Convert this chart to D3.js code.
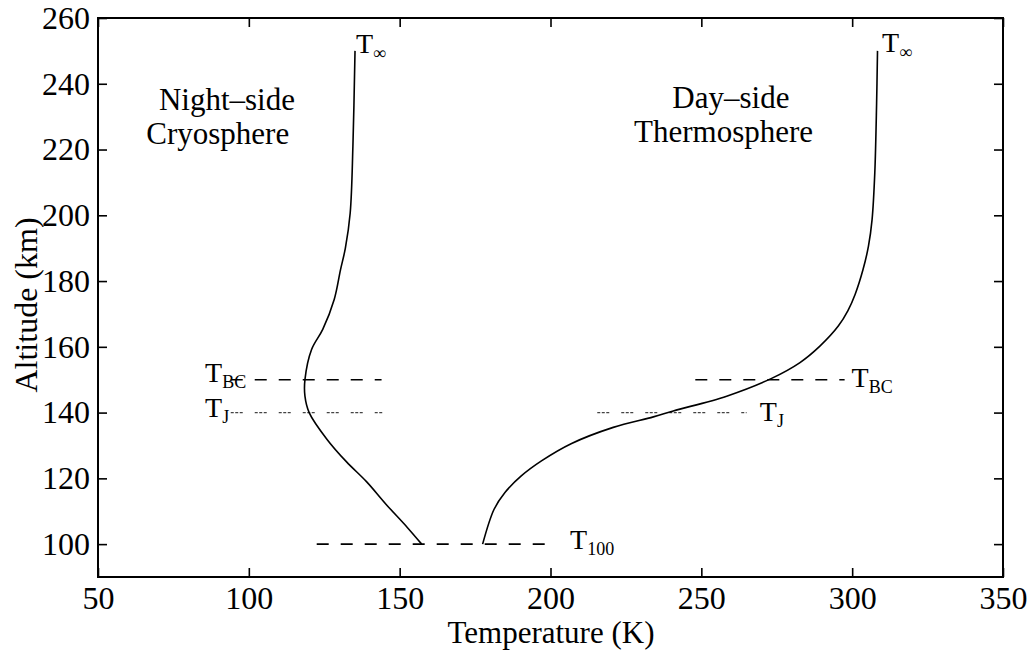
<!DOCTYPE html>
<html>
<head>
<meta charset="utf-8">
<script src="https://cdn.jsdelivr.net/npm/d3@7"></script>
<style>
  html, body { margin: 0; padding: 0; background: #fff; }
  svg { display: block; font-family: "Liberation Serif", "Times New Roman", serif; }
</style>
</head>
<body>
<svg id="chart" width="1031" height="650"></svg>
<script>
// Night-side (cryosphere) temperature profile: altitude (km) vs temperature (K)
const nightAlt  = [100, 105, 112, 119, 125, 132, 140, 145, 150, 159.2, 165.3, 174.4, 183.5, 190, 200.7, 221, 250];
const nightTemp = [157.3, 152.6, 145.6, 139.0, 132.4, 125.8, 120.0, 118.6, 118.6, 120.8, 124.5, 128.3, 130.4, 132.0, 133.6, 134.5, 135.2];

// Day-side (thermosphere) temperature profile
const dayAlt  = [100, 110.6, 115.7, 120.8, 125.3, 130.6, 135.5, 138.7, 140.5, 145, 150.4, 155.2, 160.2, 166.3, 171, 176, 183.5, 190.6, 198.7, 212.9, 234, 250];
const dayTemp = [177.5, 181.3, 184.9, 190.4, 197.0, 207.0, 220.8, 234.1, 240.7, 258.4, 273.3, 282.7, 289.3, 295.4, 298.6, 301.0, 303.6, 305.4, 306.6, 307.5, 308.1, 308.4];

// Reference levels: altitude, temperature span, line style
const refAlt   = [150, 140, 100, 150, 140];
const refFrom  = [94, 94, 122.5, 248, 215.5];
const refTo    = [144, 144.5, 199.5, 297.5, 265];
const refStyle = ["dash", "dot", "dash", "dash", "dot"];

// Level labels: main letter, subscript, anchor (temperature, altitude)
const lblMain = ["T", "T", "T", "T", "T", "T", "T"];
const lblSub  = ["\u221E", "\u221E", "BC", "J", "BC", "J", "100"];
const lblT    = [135.5, 309.9, 85.5, 85.5, 299.8, 269.4, 206.5];
const lblA    = [249.4, 249.7, 149.2, 138.6, 147.7, 137.4, 98.5];

// Region titles (two lines each), anchored at line start
const regionLines = [["Night\u2013side", "Cryosphere"], ["Day\u2013side", "Thermosphere"]];
const regionT = [[70.2, 66.0], [240.4, 227.7]];
const regionA = [[232.1, 221.6], [232.7, 222.2]];

// Axis ticks
const xTicks = [50, 100, 150, 200, 250, 300, 350];
const yTicks = [100, 120, 140, 160, 180, 200, 220, 240, 260];

const svg = d3.select("#chart");
const margin = { left: 98, right: 28, top: 18, bottom: 73 };
const W = 1031, H = 650;
const iw = W - margin.left - margin.right;
const ih = H - margin.top - margin.bottom;

const x = d3.scaleLinear().domain([50, 350]).range([0, iw]);
const y = d3.scaleLinear().domain([90, 260]).range([ih, 0]);

const g = svg.append("g").attr("transform", `translate(${margin.left},${margin.top})`);

const fontSize = 32;

// Axes with inward ticks on all four sides
const ax = (sel) => {
  sel.select(".domain").remove();
  sel.selectAll(".tick line").attr("stroke", "#000").attr("stroke-width", 1.6);
  sel.selectAll("text").attr("font-size", fontSize).attr("fill", "#000")
     .attr("font-family", "Liberation Serif, Times New Roman, serif");
};
g.append("g").attr("transform", `translate(0,${ih})`)
  .call(d3.axisBottom(x).tickValues(xTicks).tickSizeInner(-9).tickSizeOuter(0).tickPadding(9))
  .call(ax);
g.append("g")
  .call(d3.axisTop(x).tickValues(xTicks).tickSizeInner(-9).tickSizeOuter(0).tickFormat(""))
  .call(ax);
g.append("g")
  .call(d3.axisLeft(y).tickValues(yTicks).tickSizeInner(-9).tickSizeOuter(0).tickPadding(8))
  .call(ax);
g.append("g").attr("transform", `translate(${iw},0)`)
  .call(d3.axisRight(y).tickValues(yTicks).tickSizeInner(-9).tickSizeOuter(0).tickFormat(""))
  .call(ax);

// Frame
g.append("rect").attr("x", 0).attr("y", 0).attr("width", iw).attr("height", ih)
  .attr("fill", "none").attr("stroke", "#000").attr("stroke-width", 2);

// Reference level lines
refAlt.forEach((a, i) => {
  const dot = refStyle[i] === "dot";
  g.append("line")
    .attr("x1", x(refFrom[i])).attr("x2", x(refTo[i]))
    .attr("y1", y(a)).attr("y2", y(a))
    .attr("stroke", dot ? "#444" : "#000")
    .attr("stroke-width", dot ? 1.1 : 1.6)
    .attr("stroke-dasharray", dot ? "3,1.5,3,1.5,3,12" : "12,12");
});

// Temperature profiles
const line = d3.line().x(d => x(d[0])).y(d => y(d[1])).curve(d3.curveCatmullRom.alpha(0.5));
g.append("path").datum(nightTemp.map((t, i) => [t, nightAlt[i]]))
  .attr("d", line).attr("fill", "none").attr("stroke", "#000").attr("stroke-width", 1.6);
g.append("path").datum(dayTemp.map((t, i) => [t, dayAlt[i]]))
  .attr("d", line).attr("fill", "none").attr("stroke", "#000").attr("stroke-width", 1.6);

// Level labels with subscripts
lblMain.forEach((m, i) => {
  const t = g.append("text")
    .attr("x", x(lblT[i])).attr("y", y(lblA[i]))
    .attr("font-size", 28).attr("fill", "#000");
  t.append("tspan").text(m);
  t.append("tspan").attr("dy", 6).attr("font-size", 18).text(lblSub[i]);
});

// Region titles
regionLines.forEach((lines, r) => {
  lines.forEach((s, k) => {
    g.append("text")
      .attr("x", x(regionT[r][k])).attr("y", y(regionA[r][k]))
      .attr("font-size", 31).attr("fill", "#000").text(s);
  });
});

// Axis titles
svg.append("text")
  .attr("x", 551).attr("y", 643)
  .attr("text-anchor", "middle").attr("font-size", 31).attr("fill", "#000")
  .text("Temperature (K)");
svg.append("text")
  .attr("transform", `translate(37,305) rotate(-90)`)
  .attr("text-anchor", "middle").attr("font-size", fontSize).attr("fill", "#000")
  .text("Altitude (km)");
</script>
</body>
</html>
